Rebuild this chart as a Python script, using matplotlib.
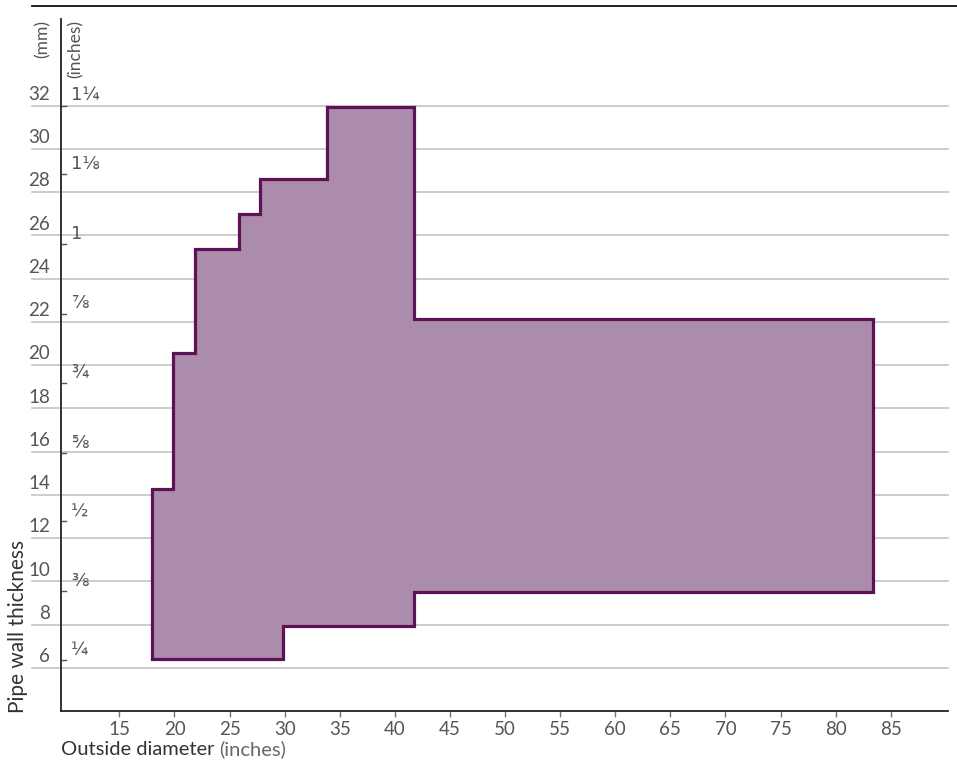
import matplotlib
matplotlib.use("Agg")
import matplotlib.pyplot as plt
from matplotlib.lines import Line2D
import matplotlib.transforms as mtransforms

plt.rcParams['font.family'] = ['Lato', 'DejaVu Sans']

# outline of the range (outside diameter in inches, wall thickness in mm)
od = [18, 18, 19.9, 19.9, 21.9, 21.9, 25.86, 25.86, 27.8, 27.8, 33.8, 33.8,
      41.75, 41.75, 83.36, 83.36, 41.75, 41.75, 29.87, 29.87]
wall = [6.4, 14.26, 14.26, 20.56, 20.56, 25.35, 25.35, 26.97, 26.97, 28.58, 28.58, 31.92,
        31.92, 22.12, 22.12, 9.49, 9.49, 7.92, 7.92, 6.4]

mm_ticks = [6, 8, 10, 12, 14, 16, 18, 20, 22, 24, 26, 28, 30, 32]
inch_pos = [6.35, 9.53, 12.77, 15.95, 19.18, 22.38, 25.6, 28.84, 32.0]
inch_labels = ['¼', '⅜', '½', '⅝', '¾', '⅞', '1', '1⅛', '1¼']
x_ticks = [15, 20, 25, 30, 35, 40, 45, 50, 55, 60, 65, 70, 75, 80, 85]

txt = '#555555'

fig = plt.figure(figsize=(9.57, 7.62), dpi=100)
ax = fig.add_axes([61 / 957, 1 - 711 / 762, 887 / 957, 692 / 762])
ax.set_xlim(9.7, 90.2)
ax.set_ylim(4, 36)

# horizontal grid, running out past the left spine
trans = mtransforms.blended_transform_factory(ax.transAxes, ax.transData)
for v in mm_ticks:
    ax.plot([-0.033, 1], [v, v], transform=trans, color='#c4c4c4', lw=1.2,
            clip_on=False, zorder=1)
    ax.text(-0.0125, v + 0.12, str(v), transform=trans, ha='right', va='bottom',
            fontsize=13.5, color=txt)

# inch ticks (fractions drawn in DejaVu, which has full-size fraction glyphs)
for v, lab in zip(inch_pos, inch_labels):
    ax.plot([0.001, 0.006], [v, v], transform=trans, color='#555555', lw=1,
            clip_on=False, zorder=3)
    ax.text(0.011, v + 0.05, lab, transform=trans, ha='left', va='bottom',
            fontsize=13, color=txt, family=['DejaVu Sans'])

ax.fill(od, wall, facecolor='#ac8cad', edgecolor='#5d1257', lw=2.3, zorder=2)

ax.set_xticks(x_ticks)
ax.set_xticklabels([str(t) for t in x_ticks])
ax.set_yticks([])
ax.tick_params(axis='x', length=4, width=1, color='#777777', labelsize=13.5,
               labelcolor=txt, pad=3)
for s in ['top', 'right']:
    ax.spines[s].set_visible(False)
for s in ['left', 'bottom']:
    ax.spines[s].set_color('#222222')
    ax.spines[s].set_linewidth(1.3)

# column headers
fig.text(43 / 957, 1 - 20 / 762, '(mm)', rotation=90, ha='center', va='top',
         fontsize=12.5, color=txt)
fig.text(76 / 957, 1 - 20 / 762, '(inches)', rotation=90, ha='center', va='top',
         fontsize=12.5, color=txt)

fig.text(18 / 957, 1 - 713 / 762, 'Pipe wall thickness', rotation=90, ha='center',
         va='bottom', fontsize=15, color='#333333')

t = fig.text(61 / 957, 1 - 755 / 762, 'Outside diameter', ha='left', va='baseline',
             fontsize=14.5, color='#333333')
fig.canvas.draw()
bb = t.get_window_extent()
fig.text(bb.x1 / 957 + 5 / 957, 1 - 755 / 762, '(inches)', ha='left', va='baseline',
         fontsize=14.5, color='#666666')

# rule across the top
fig.add_artist(Line2D([32 / 957, 1], [1 - 6 / 762, 1 - 6 / 762], color='#111111', lw=1.3))

fig.savefig('out.png', dpi=100)
